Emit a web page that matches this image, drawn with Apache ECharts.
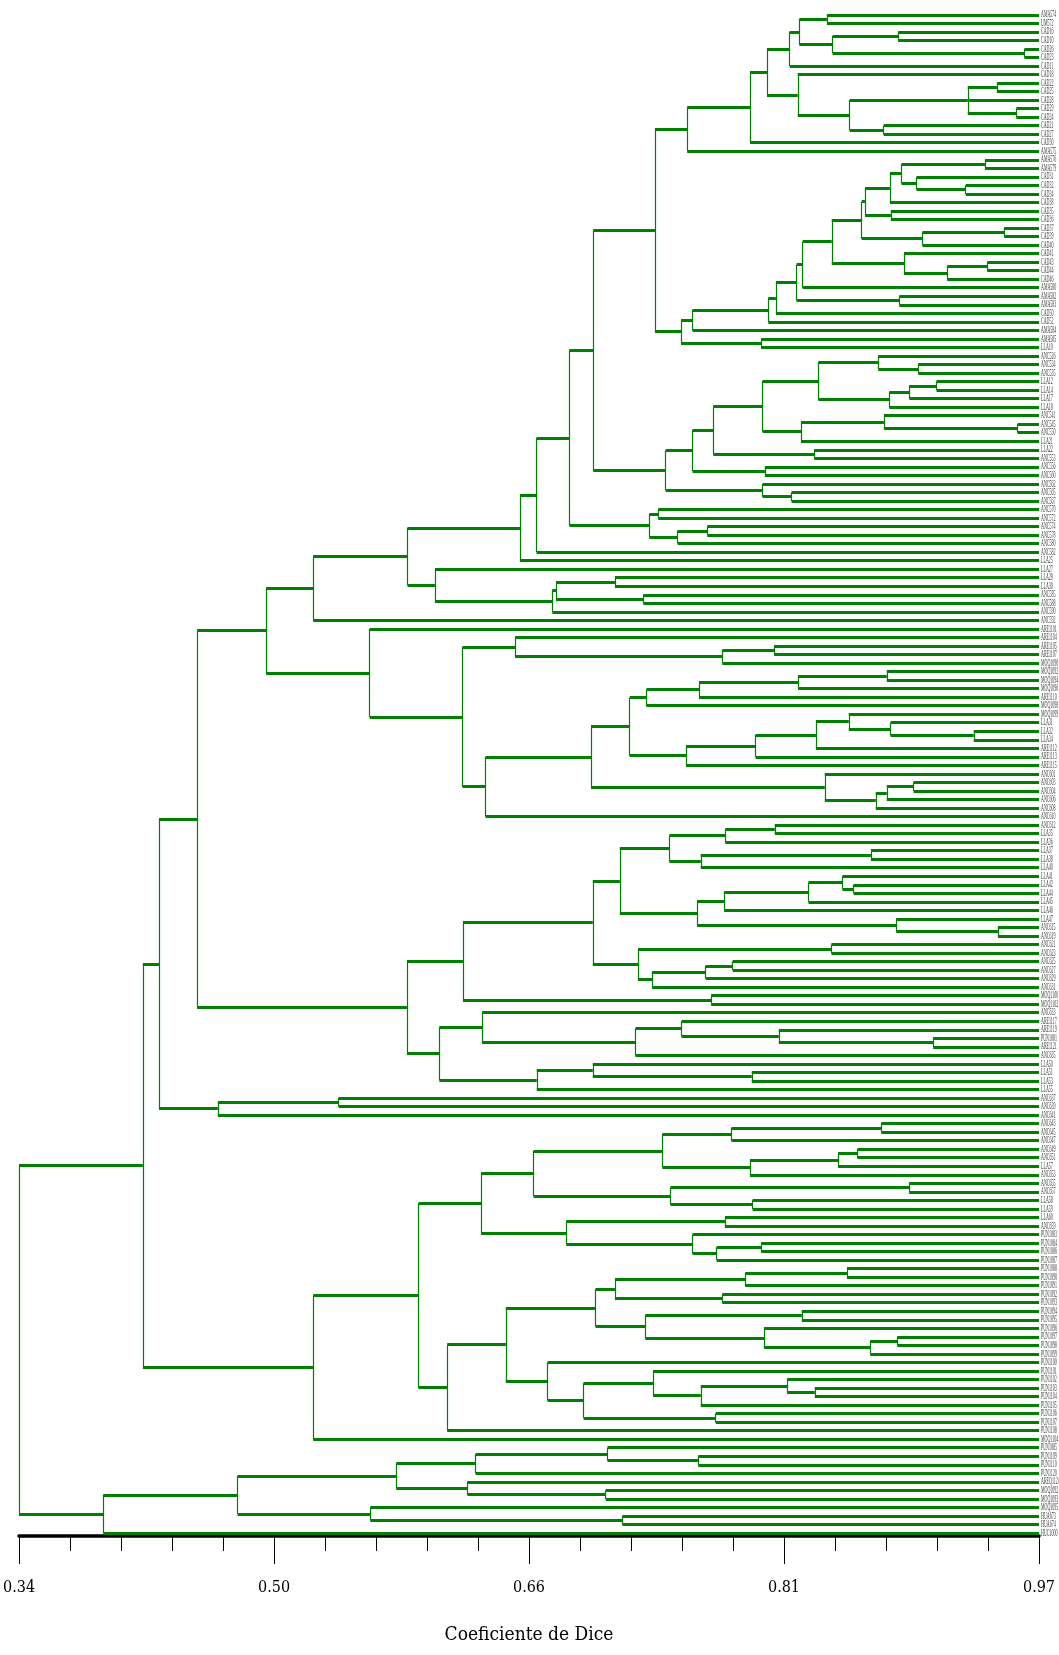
<!DOCTYPE html>
<html><head><meta charset="utf-8">
<script src="https://cdn.jsdelivr.net/npm/echarts@6/dist/echarts.min.js"></script>
<style>html,body{margin:0;padding:0;background:#fff}#c{width:1059px;height:1655px}</style>
</head><body><div id="c"></div>
<script>
// ---- axis ticks ----
const tickValues = [0.34, 0.3715, 0.403, 0.4345, 0.466, 0.4975, 0.529, 0.5605, 0.592, 0.6235, 0.655, 0.6865, 0.718, 0.7495, 0.781, 0.8125, 0.844, 0.8755, 0.907, 0.9385, 0.97];
const majorTickValues = [0.34, 0.4975, 0.655, 0.8125, 0.97];
const tickLabels = ['0.34', '0.50', '0.66', '0.81', '0.97'];

// ---- leaf labels (top to bottom) ----
const leafLabels = ('AMA574 UM572 CAD16 CAD10 CAD26 CAD23 CAD11 CAD18 CAD22 CAD25 ' +
  'CAD28 CAD29 CAD24 CAD21 CAD27 CAD30 AMA575 AMA576 AMA579 CAD31 ' +
  'CAD32 CAD34 CAD38 CAD35 CAD36 CAD37 CAD39 CAD40 CAD41 CAD43 ' +
  'CAD44 CAD46 AMA580 AMA582 AMA583 CAD50 CAD52 AMA584 AMA585 LLA10 ' +
  'ANC526 ANC534 ANC535 LLA12 LLA14 LLA17 LLA18 ANC541 ANC545 ANC550 ' +
  'LLA21 LLA22 ANC553 ANC556 ANC560 ANC562 ANC565 ANC567 ANC570 ANC572 ' +
  'ANC574 ANC578 ANC580 ANC582 LLA25 LLA27 LLA28 LLA30 ANC585 ANC588 ' +
  'ANC590 ANC592 ARE1101 ARE1104 ARE1105 ARE1107 MOQ1090 MOQ1092 MOQ1094 MOQ1096 ' +
  'ARE1110 MOQ1098 MOQ1099 LLA31 LLA32 LLA34 ARE1112 ARE1113 ARE1115 ANC601 ' +
  'ANC603 ANC604 ANC606 ANC608 ANC610 ANC612 LLA35 LLA36 LLA37 LLA38 ' +
  'LLA40 LLA41 LLA42 LLA44 LLA45 LLA46 LLA47 ANC615 ANC619 ANC621 ' +
  'ANC623 ANC625 ANC627 ANC629 ANC631 MOQ1100 MOQ1102 ANC633 ARE1117 ARE1119 ' +
  'PUN1081 ARE1121 ANC635 LLA50 LLA51 LLA53 LLA55 ANC637 ANC639 ANC641 ' +
  'ANC643 ANC645 ANC647 ANC649 ANC651 LLA57 ANC653 ANC655 ANC657 LLA58 ' +
  'LLA59 LLA60 ANC659 PUN1083 PUN1084 PUN1086 PUN1087 PUN1088 PUN1090 PUN1091 ' +
  'PUN1092 PUN1093 PUN1094 PUN1095 PUN1096 PUN1097 PUN1098 PUN1099 PUN1100 PUN1101 ' +
  'PUN1102 PUN1103 PUN1104 PUN1105 PUN1106 PUN1107 PUN1108 MOQ1104 PUN1085 PUN1109 ' +
  'PUN1110 PUN1120 AREQ1124 MOQ1092 MOQ1093 MOQ1095 HUA673 HUA674 HUC1000').split(' ');

// ---- clusters: [similarity, child, child, ...]; numbers are leaf indices ----
const clusterA1 = [0.816, [0.822, [0.839, 0, 1], [0.8425, [0.883, 2, 3], [0.961, 4, 5]]], 6];
const clusterA2 = [0.821, 7, [0.853, [0.926, [0.944, 8, 9], 10, [0.956, 11, 12]], [0.874, 13, 14]]];
const clusterC = [0.8203, [0.824, [0.842, [0.8605, [0.8625, [0.8779, [0.8851, [0.9366, 17, 18], [0.8944, 19, [0.9247, 20, 21]]], 22], [0.8785, 23, 24]], [0.898, [0.9485, 25, 26], 27]], [0.8866, 28, [0.9133, [0.938, 29, 30], 31]]], 32], [0.8837, 33, 34]];
const clusterTop1 = [0.7328, [0.7527, [0.7915, [0.802, clusterA1, clusterA2], 15], 16], [0.7489, [0.756, [0.8028, [0.8075, clusterC, 35], 36], 37], [0.7983, 38, 39]]];
const clusterTop2 = [0.7394, [0.756, [0.7688, [0.7993, [0.8337, [0.8707, 40, [0.8954, 41, 42]], [0.8775, [0.8899, [0.9067, 43, 44], 45], 46]], [0.823, [0.8742, 47, [0.9568, 48, 49]], 50]], [0.8312, 51, 52]], [0.8007, 53, 54]], [0.7993, 55, [0.8172, 56, 57]]];
const clusterTop3 = [0.7293, [0.7348, 58, 59], [0.7468, [0.7651, 60, 61], 62]];
const clusterUpper = [0.5217, [0.58, [0.6494, [0.6597, [0.6799, [0.6947, clusterTop1, clusterTop2], clusterTop3], 63], 64], [0.5969, 65, [0.6694, [0.6717, [0.7081, 66, 67], [0.7256, 68, 69]], 70]]], 71];
const clusterM1 = [0.7275, [0.76, [0.8212, [0.876, 77, 78], 79], 80], 81];
const clusterM2 = [0.752, [0.7949, [0.8322, [0.8525, 82, [0.8783, 83, [0.9297, 84, 85]]], 86], 87], 88];
const clusterM3 = [0.8377, 89, [0.8692, [0.876, [0.8925, 90, 91], 92], 93]];
const clusterMid1 = [0.6139, [0.6464, 73, [0.7744, [0.8064, 74, 75], 76]], [0.6281, [0.6933, [0.7172, clusterM1, clusterM2], clusterM3], 94]];
const clusterMid2 = [0.6944, [0.7111, [0.7417, [0.7762, [0.8068, 95, 96], 97], [0.7611, [0.8662, 98, 99], 100]], [0.7588, [0.7755, [0.8276, [0.8486, 101, [0.8555, 102, 103]], 104], 105], [0.8818, 106, [0.9446, 107, 108]]]], [0.7223, [0.8418, 109, 110], [0.731, [0.7641, [0.7808, 111, 112], 113], 114]]];
const clusterMid3 = [0.5996, [0.626, 117, [0.7207, [0.7492, 118, [0.8093, 119, [0.9046, 120, 121]]], 122]], [0.6598, [0.6944, 123, [0.7926, 124, 125]], 126]];
const clusterP1 = [0.6254, [0.6578, [0.7374, [0.7801, [0.8726, 130, 131], 132], [0.7915, [0.8459, [0.8578, 133, 134], 135], 136]], [0.7424, [0.8898, 137, 138], [0.7931, 139, 140]]], [0.678, [0.776, 141, 142], [0.7561, 143, [0.7709, [0.7984, 144, 145], 146]]]];
const clusterP2 = [0.6407, [0.6962, [0.7081, [0.7885, [0.8514, 147, 148], 149], [0.7744, 150, 151]], [0.7268, [0.8235, 152, 153], [0.8002, 154, [0.8658, [0.8825, 155, 156], 157]]]], [0.6665, 158, [0.6887, [0.7316, 159, [0.7611, [0.8144, 160, [0.8315, 161, 162]], 163]], [0.7703, 164, 165]]]];
const clusterQ1 = [0.7035, 168, [0.7595, 169, 170]];
const clusterQ2 = [0.7024, 173, 174];
const clusterQ3 = [0.7127, 176, 177];

const clusterHigh = [0.4265, [0.45, [0.4926, clusterUpper, [0.5566, 72, clusterMid1]], [0.5796, [0.6142, clusterMid2, [0.7675, 115, 116]], clusterMid3]], [0.4628, [0.5374, 127, 128], 129]];
const clusterLow = [0.5217, [0.5868, clusterP1, [0.6045, clusterP2, 166]], 167];
const clusterBottom = [0.392, [0.475, [0.573, [0.622, clusterQ1, 171], [0.617, 172, clusterQ2]], [0.557, 175, clusterQ3]], 178];
const root = [0.34, [0.4165, clusterHigh, clusterLow], clusterBottom];

// ---- build segments from the tree ----
const LEAF_X = 0.97;
const hSegs = [], vSegs = [];
function walk(node) {
  if (typeof node === 'number') return { x: LEAF_X, y: node };
  const h = node[0];
  const kids = node.slice(1).map(walk);
  kids.forEach(k => hSegs.push({ coords: [[h, k.y], [k.x, k.y]] }));
  const y0 = kids[0].y, y1 = kids[kids.length - 1].y;
  vSegs.push({ coords: [[h, y0], [h, y1]] });
  return { x: h, y: (y0 + y1) / 2 };
}
walk(root);

const chart = echarts.init(document.getElementById('c'));
const font = "'DejaVu Serif Condensed', 'Liberation Serif', serif";
const gridBox = { left: 19, right: 20, top: 2, bottom: 119 };
chart.setOption({
  animation: false,
  backgroundColor: '#fff',
  grid: [Object.assign({}, gridBox), Object.assign({}, gridBox)],
  xAxis: [{
    gridIndex: 0, type: 'value', min: 0.34, max: 0.97, position: 'bottom',
    axisLine: { show: true, onZero: false, lineStyle: { color: '#000', width: 3.5 } },
    axisTick: { show: true, customValues: tickValues, length: 15, lineStyle: { color: '#000', width: 1 } },
    axisLabel: { show: false }, splitLine: { show: false }
  }, {
    gridIndex: 1, type: 'value', min: 0.34, max: 0.97, position: 'bottom',
    axisLine: { show: false, onZero: false },
    axisTick: { show: true, customValues: majorTickValues, length: 28, lineStyle: { color: '#000', width: 1 } },
    axisLabel: {
      show: true, customValues: majorTickValues, margin: 44,
      fontFamily: font, fontSize: 16, color: '#000',
      formatter: v => { const i = majorTickValues.findIndex(m => Math.abs(m - v) < 1e-6); return i >= 0 ? tickLabels[i] : ''; }
    },
    splitLine: { show: false },
    name: 'Coeficiente de Dice', nameLocation: 'middle', nameGap: 90,
    nameTextStyle: { fontFamily: font, fontSize: 19, color: '#000' }
  }],
  yAxis: [
    { gridIndex: 0, type: 'value', min: -1.5, max: 178.35, inverse: true, show: false },
    { gridIndex: 1, type: 'value', min: -1.5, max: 178.35, inverse: true, show: false }
  ],
  series: [{
    type: 'lines', coordinateSystem: 'cartesian2d', xAxisIndex: 0, yAxisIndex: 0, polyline: false, silent: true,
    lineStyle: { color: '#008000', width: 1.2, opacity: 1 }, data: vSegs
  }, {
    type: 'lines', coordinateSystem: 'cartesian2d', xAxisIndex: 0, yAxisIndex: 0, polyline: false, silent: true,
    lineStyle: { color: '#008000', width: 3, opacity: 1 }, data: hSegs
  }, {
    type: 'custom', xAxisIndex: 0, yAxisIndex: 0, clip: false, silent: true,
    data: leafLabels.map((l, i) => [LEAF_X, i]),
    renderItem: (params, api) => {
      const p = api.coord([api.value(0), api.value(1)]);
      return { type: 'text', x: p[0] + 2, y: p[1], scaleX: 0.4,
        style: { text: leafLabels[api.value(1)], fontSize: 10, fontFamily: 'Liberation Serif', fill: '#3a3a3a', align: 'left', verticalAlign: 'middle' } };
    }
  }]
});
</script></body></html>
